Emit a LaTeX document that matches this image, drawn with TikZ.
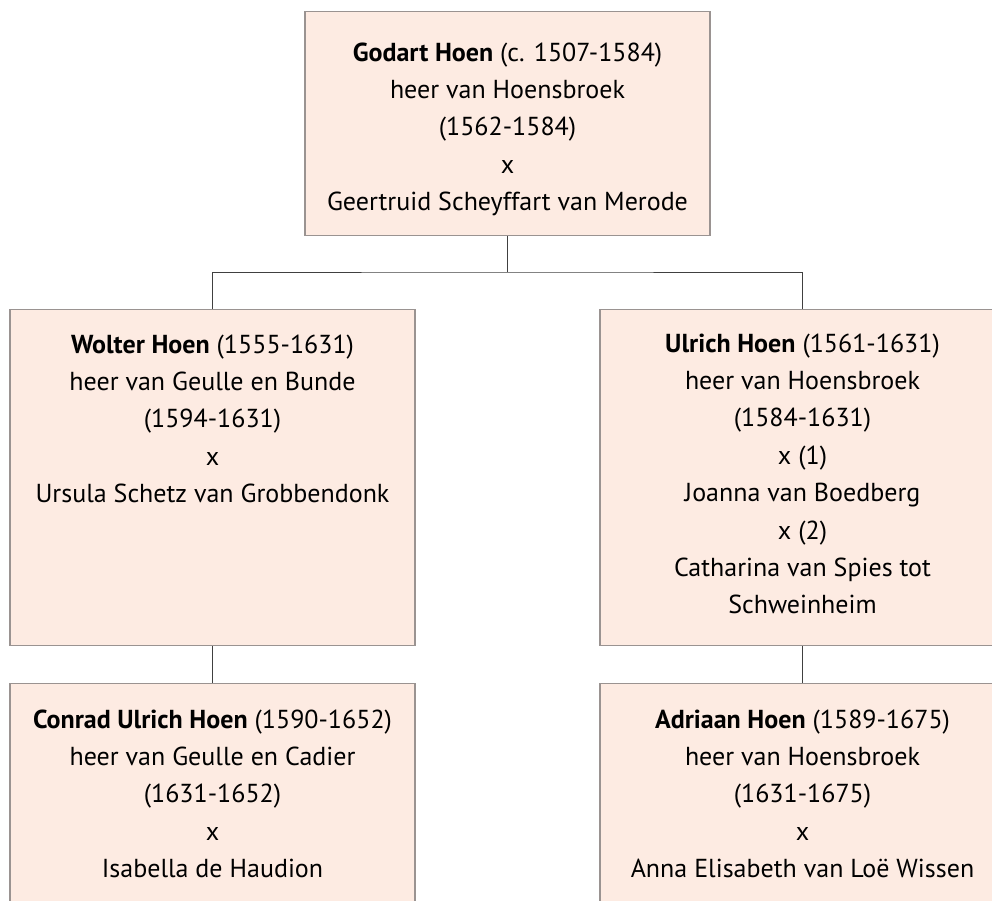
\documentclass[tikz,border=0pt]{standalone}
\usepackage{fontspec}
\setmainfont{PT Sans}
\usetikzlibrary{positioning}

\definecolor{boxfill}{HTML}{FDEBE2}
\definecolor{boxline}{HTML}{9A9391}
\definecolor{treeline}{HTML}{404040}

% one family member: box height, top padding, lines
\newcommand{\famtext}[3]{\parbox[c][#1][t]{405pt}{\centering\vspace*{#2}#3\par}}

\tikzset{
  famblock/.style={draw=boxline, line width=1.2pt, fill=boxfill, inner sep=0pt,
    anchor=north, font=\fontsize{26}{37.4}\selectfont},
  famline/.style={draw=treeline, line width=1pt}
}

\begin{document}
\begin{tikzpicture}[x=1pt,y=-1pt]
  \useasboundingbox (0,0) rectangle (992,901);
  \clip (0,0) rectangle (992,901);

  \node[famblock] (godart) at (507.5,11)
    {\famtext{224pt}{31pt}{\textbf{Godart Hoen} (c. 1507-1584)\\ heer van Hoensbroek\\ (1562-1584)\\ x\\ Geertruid Scheyffart van Merode}};

  \node[famblock] (wolter) at (212.5,309)
    {\famtext{336pt}{25pt}{\textbf{Wolter Hoen} (1555-1631)\\ heer van Geulle en Bunde\\ (1594-1631)\\ x\\ Ursula Schetz van Grobbendonk}};
  \node[famblock] (ulrich) at (802.5,309)
    {\famtext{336pt}{24pt}{\textbf{Ulrich Hoen} (1561-1631)\\ heer van Hoensbroek\\ (1584-1631)\\ x (1)\\ Joanna van Boedberg\\ x (2)\\ Catharina van Spies tot\\ Schweinheim}};

  \node[famblock] (conrad) at (212.5,683)
    {\famtext{260pt}{26pt}{\textbf{Conrad Ulrich Hoen} (1590-1652)\\ heer van Geulle en Cadier\\ (1631-1652)\\ x\\ Isabella de Haudion}};
  \node[famblock] (adriaan) at (802.5,683)
    {\famtext{260pt}{26pt}{\textbf{Adriaan Hoen} (1589-1675)\\ heer van Hoensbroek\\ (1631-1675)\\ x\\ Anna Elisabeth van Loë Wissen}};

  % connectors
  \coordinate (fork) at (507.5,272);
  \draw[famline] (godart.south) -- (fork);
  \draw[famline] (wolter.north) |- (fork) -| (ulrich.north);
  \draw[famline] (wolter.south) -- (conrad.north);
  \draw[famline] (ulrich.south) -- (adriaan.north);
\end{tikzpicture}
\end{document}
